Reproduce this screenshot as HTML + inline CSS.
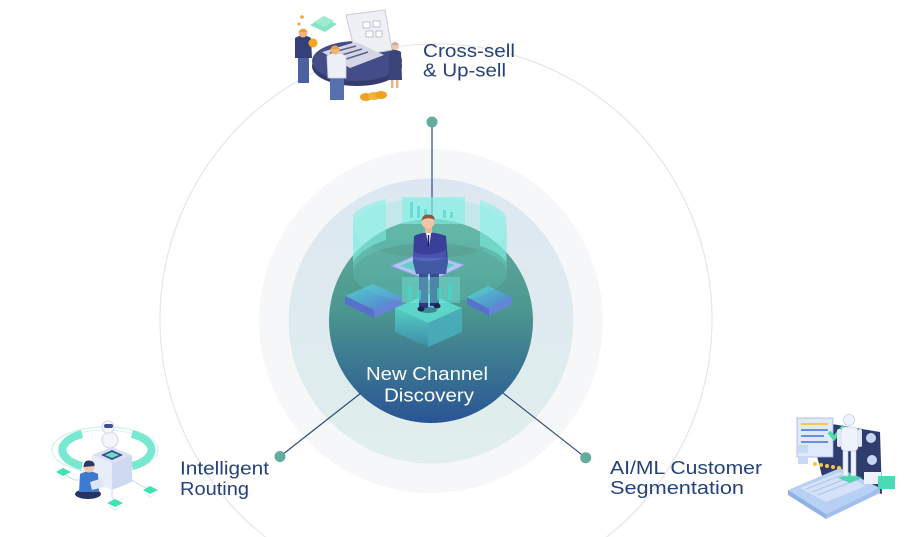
<!DOCTYPE html>
<html><head><meta charset="utf-8"><style>
html,body{margin:0;padding:0;background:#fff;width:908px;height:537px;overflow:hidden;}
svg{display:block}
text{font-family:"Liberation Sans",sans-serif;}
</style></head><body>
<svg width="908" height="537" viewBox="0 0 908 537" xmlns="http://www.w3.org/2000/svg">
<defs>
<linearGradient id="core" x1="0" y1="0" x2="0" y2="1">
 <stop offset="0" stop-color="#63ac9c"/>
 <stop offset="0.45" stop-color="#4b978f"/>
 <stop offset="1" stop-color="#2a5495"/>
</linearGradient>
<linearGradient id="mid" x1="0" y1="0" x2="0" y2="1">
 <stop offset="0" stop-color="#dde7f1"/>
 <stop offset="1" stop-color="#e0eeec"/>
</linearGradient>
<linearGradient id="blk" x1="0" y1="0" x2="1" y2="1">
 <stop offset="0" stop-color="#4fd9d0"/>
 <stop offset="1" stop-color="#5a72e0"/>
</linearGradient>
<linearGradient id="blk2" x1="0" y1="0" x2="0" y2="1">
 <stop offset="0" stop-color="#58dccf"/>
 <stop offset="1" stop-color="#3d8fb0"/>
</linearGradient>
</defs>
<rect width="908" height="537" fill="#fff"/>

<path d="M265.5,537 A276,276 0 1,1 606.5,537" fill="none" stroke="#e5e6e8" stroke-width="1.2"/>
<circle cx="431" cy="321" r="172" fill="#f6f7f8"/>
<circle cx="431" cy="321" r="142.5" fill="url(#mid)"/>
<circle cx="431" cy="321" r="102" fill="url(#core)"/>

<g stroke="#2f4c7e" stroke-width="1.2">
<line x1="432" y1="122" x2="432" y2="220"/>
<line x1="280" y1="456.5" x2="361" y2="393"/>
<line x1="503" y1="393" x2="585.7" y2="457.7"/>
</g>
<g fill="#62ad9c">
<circle cx="432" cy="122" r="5.5"/>
<circle cx="280" cy="456.5" r="5.5"/>
<circle cx="585.7" cy="457.7" r="5.5"/>
</g>

<path d="M353,228 A77,30 0 0,1 507,228 L507,273 A77,30 0 0,0 353,273 Z" fill="#6fe6d8" opacity="0.22"/>
<rect x="402" y="197" width="63" height="27" fill="#7ff0e2" opacity="0.6"/>
<g fill="#3fd7c8" opacity="0.6">
<rect x="410" y="202" width="3" height="16"/><rect x="417" y="206" width="3" height="12"/><rect x="424" y="209" width="3" height="9"/><rect x="443" y="210" width="3" height="8"/><rect x="450" y="212" width="3" height="6"/>
</g>
<path d="M353,215 Q360,205 386,199 L386,240 Q362,248 353,262 Z" fill="#7ff0e2" opacity="0.55"/>
<path d="M480,200 Q500,207 506,216 L506,262 Q500,252 480,246 Z" fill="#7ff0e2" opacity="0.55"/>

<polygon points="345,296 373,284 402,297 374,310" fill="url(#blk)" opacity="0.85"/>
<polygon points="345,296 374,310 374,318 345,304" fill="#5a68d8" opacity="0.8"/>
<polygon points="374,310 402,297 402,305 374,318" fill="#6c80e8" opacity="0.8"/>
<polygon points="467,297 488,286 512,297 489,309" fill="url(#blk)" opacity="0.85"/>
<polygon points="467,297 489,309 489,316 467,304" fill="#5a68d8" opacity="0.8"/>
<polygon points="489,309 512,297 512,304 489,316" fill="#6c80e8" opacity="0.8"/>
<polygon points="395,308 428,294 462,308 428,323" fill="#5fe0d2" opacity="0.85"/>
<polygon points="395,308 428,323 428,347 395,332" fill="url(#blk2)" opacity="0.8"/>
<polygon points="428,323 462,308 462,332 428,347" fill="#4ab2c0" opacity="0.8"/>

<polygon points="391,266 424,252 464,265 431,281" fill="#c2bff8" stroke="#9a95ec" stroke-width="1"/>
<polygon points="400,266 424,256 455,265 431,276" fill="#64c9c2"/>

<ellipse cx="428" cy="310" rx="9" ry="3" fill="#2a4f7a" opacity="0.6"/>
<rect x="419" y="270" width="9" height="38" fill="#2d3782"/>
<rect x="430" y="270" width="9" height="36" fill="#283076"/>
<ellipse cx="421" cy="309" rx="3.5" ry="2.5" fill="#1e244f"/>
<ellipse cx="437" cy="306" rx="3.5" ry="2.5" fill="#1e244f"/>
<path d="M414,236 Q428,229 446,236 L448,262 L446,274 L416,274 L413,262 Z" fill="#3a3f9a"/>
<path d="M414,252 Q428,258 446,250 L446,258 Q428,264 414,259 Z" fill="#4c52b4"/>
<polygon points="426,233 431,233 429,248" fill="#fff"/>
<line x1="428.5" y1="235" x2="428.5" y2="247" stroke="#1e244f" stroke-width="1.5"/>
<rect x="425" y="226" width="7" height="7" fill="#e9b898"/>
<circle cx="428" cy="222" r="6.5" fill="#f0c6a6"/>
<path d="M421.5,221 Q422,214 429,214.5 Q435,215 434.5,220 Q430,217 424,219 Z" fill="#8a5a3c"/>

<path d="M353,228 A77,30 0 0,0 507,228 L507,273 A77,30 0 0,1 353,273 Z" fill="#6fe6d8" opacity="0.16"/>
<rect x="402" y="277" width="58" height="26" fill="#7ff0e2" opacity="0.35"/>
<g fill="#3fe0cf" opacity="0.6">
<rect x="408" y="286" width="4" height="14"/><rect x="417" y="290" width="4" height="10"/><rect x="437" y="288" width="4" height="12"/><rect x="448" y="284" width="4" height="16"/>
</g>

<g fill="#fff" font-size="18">
<text x="366" y="380" textLength="122" lengthAdjust="spacingAndGlyphs">New Channel</text>
<text x="384" y="401.5" textLength="90" lengthAdjust="spacingAndGlyphs">Discovery</text>
</g>

<g fill="#25417a" font-size="18">
<text x="423" y="57" textLength="92" lengthAdjust="spacingAndGlyphs">Cross-sell</text>
<text x="423" y="76.5" textLength="83" lengthAdjust="spacingAndGlyphs">&amp; Up-sell</text>
<text x="180" y="474.5" textLength="89" lengthAdjust="spacingAndGlyphs">Intelligent</text>
<text x="180" y="495" textLength="69" lengthAdjust="spacingAndGlyphs">Routing</text>
<text x="610" y="474" textLength="152" lengthAdjust="spacingAndGlyphs">AI/ML Customer</text>
<text x="610" y="494" textLength="134" lengthAdjust="spacingAndGlyphs">Segmentation</text>
</g>

<g>
<polygon points="310,25 322,18 337,24 325,32" fill="#86e3c6"/>
<polygon points="314,22 324,16 334,21 324,27" fill="#9cecd3"/>
<circle cx="302" cy="17" r="1.8" fill="#f3a43a"/>
<circle cx="299" cy="24" r="1.5" fill="#f3a43a"/>
<ellipse cx="357" cy="66" rx="45" ry="20" fill="#343b6c"/>
<ellipse cx="357" cy="61" rx="45" ry="20" fill="#454d88"/>
<polygon points="346,15 385,10 392,50 356,56" fill="#eef0f5" stroke="#c8ccd8" stroke-width="1"/>
<g fill="#fff" stroke="#9aa0b8" stroke-width="0.6">
<rect x="363" y="22" width="7" height="6"/><rect x="373" y="21" width="7" height="6"/><rect x="366" y="31" width="7" height="6"/><rect x="376" y="31" width="6" height="6"/>
</g>
<polygon points="322,52 356,42 384,55 350,68" fill="#d4d7e3"/>
<g stroke="#5a6090" stroke-width="1.5">
<line x1="330" y1="53" x2="356" y2="46"/><line x1="335" y1="57" x2="362" y2="49"/><line x1="340" y1="61" x2="368" y2="52"/>
</g>
<rect x="298" y="56" width="11" height="27" fill="#4c61a3"/>
<path d="M295,38 Q303,33 311,38 L312,58 L295,58 Z" fill="#34407a"/>
<circle cx="303" cy="33" r="4.5" fill="#f2b27a"/>
<path d="M298.5,32 Q303,26 307.5,32 Z" fill="#f0a030"/>
<circle cx="313" cy="43" r="4.5" fill="#f5a623"/>
<rect x="330" y="76" width="14" height="24" fill="#5670b0"/>
<path d="M327,56 Q336,50 346,56 L346,78 L328,78 Z" fill="#eef0f8" stroke="#cdd2e6" stroke-width="0.8"/>
<circle cx="335" cy="50" r="4.5" fill="#f2b27a"/>
<path d="M330.5,49 Q335,43 339.5,49 Z" fill="#f0a030"/>
<rect x="391" y="78" width="2.5" height="10" fill="#f2b27a"/><rect x="396" y="78" width="2.5" height="10" fill="#f2b27a"/>
<path d="M389,52 Q395,48 401,52 L402,80 L388,80 Z" fill="#3a4478"/>
<circle cx="395" cy="46" r="4" fill="#f2c6a6"/>
<path d="M391,45 Q395,39 399,45 Z" fill="#b3b3bc"/>
<ellipse cx="366" cy="97" rx="6" ry="4" fill="#f0a022"/>
<ellipse cx="374" cy="96" rx="6" ry="4" fill="#f5b23a"/>
<ellipse cx="381" cy="95" rx="6" ry="4" fill="#f0a022"/>
</g>

<g>
<ellipse cx="105" cy="450" rx="53" ry="23" fill="none" stroke="#c6f1e8" stroke-width="1"/>
<ellipse cx="105" cy="450" rx="47" ry="20" fill="none" stroke="#d6f6ef" stroke-width="1"/>
<path d="M82,434 A36,18 0 0,0 82,466" fill="none" stroke="#62e4c9" stroke-width="8" opacity="0.85"/>
<path d="M132,434 A36,18 0 0,1 132,466" fill="none" stroke="#62e4c9" stroke-width="8" opacity="0.85"/>
<g stroke="#cfd8e8" stroke-width="1" fill="none">
<polyline points="63,474 75,480 90,480"/><polyline points="132,480 140,485 150,490"/><polyline points="112,490 112,497 115,503"/>
</g>
<polygon points="92,455 112,447 132,455 112,463" fill="#d9e2f5"/>
<polygon points="92,455 112,463 112,490 92,482" fill="#e8eef9"/>
<polygon points="112,463 132,455 132,482 112,490" fill="#cfd9ef"/>
<polygon points="101,455 112,450 123,455 112,460" fill="#3b4f8a"/>
<polygon points="105,455 112,452 119,455 112,458" fill="#5fe3c8"/>
<ellipse cx="110" cy="440" rx="8" ry="8" fill="#f3f5fb" stroke="#c8d0e6" stroke-width="0.8"/>
<circle cx="108" cy="427" r="6" fill="#f5f7fc" stroke="#c8d0e6" stroke-width="0.8"/>
<rect x="104" y="424" width="9" height="4" rx="2" fill="#3c4f9a"/>
<polygon points="56,472 63,468 71,472 63,476" fill="#42e0b5"/>
<polygon points="143,490 150,486 158,490 150,494" fill="#42e0b5"/>
<polygon points="107,503 115,499 123,503 115,507" fill="#42e0b5"/>
<g fill="#d5f7ee">
<polygon points="56,474 63,478 71,474 63,480"/><polygon points="143,492 150,496 158,492 150,498"/><polygon points="107,505 115,509 123,505 115,511"/>
</g>
<ellipse cx="88" cy="494" rx="13" ry="5" fill="#273265"/>
<path d="M80,474 Q89,469 98,474 L99,492 L79,492 Z" fill="#3e7bd0"/>
<polygon points="90,482 103,478 104,487 92,490" fill="#dfe5f2"/>
<circle cx="89" cy="467" r="5.5" fill="#f2c6a6"/>
<path d="M83.5,467 Q84,460 89,460.5 Q95,461 94.5,466 Z" fill="#2b3868"/>
</g>

<g>
<polygon points="808,420 880,432 882,494 822,476" fill="#2e3d6e"/>
<polygon points="788,490 840,468 880,488 826,514" fill="#b7d0f3"/>
<polygon points="788,490 826,514 826,519 788,495" fill="#8fb1e6"/>
<polygon points="826,514 880,488 880,493 826,519" fill="#a2c0ec"/>
<polygon points="800,488 840,472 866,486 826,502" fill="#d3e2f8"/>
<g stroke="#b0c6ea" stroke-width="1">
<line x1="806" y1="489" x2="842" y2="475"/><line x1="812" y1="492" x2="848" y2="478"/><line x1="818" y1="495" x2="854" y2="481"/>
</g>
<rect x="797" y="418" width="36" height="39" fill="#dfe9fa" stroke="#9fb6e4" stroke-width="0.8"/>
<g stroke-width="2">
<line x1="801" y1="424" x2="828" y2="424" stroke="#f5c84a"/>
<line x1="801" y1="430" x2="828" y2="430" stroke="#6a8fe0"/>
<line x1="801" y1="436" x2="824" y2="436" stroke="#6a8fe0"/>
<line x1="801" y1="442" x2="828" y2="442" stroke="#6a8fe0"/>
</g>
<rect x="798" y="445" width="10" height="8" fill="#c9d8f4"/>
<rect x="798" y="456" width="10" height="8" fill="#c9d8f4"/>
<polyline points="829,432 834,438 844,426" fill="none" stroke="#4ed9a8" stroke-width="4"/>
<g fill="#f5c84a">
<circle cx="815" cy="464" r="2"/><circle cx="821" cy="465" r="2"/><circle cx="827" cy="466" r="2"/><circle cx="833" cy="467" r="2"/><circle cx="839" cy="468" r="2"/>
</g>
<polygon points="838,478 850,473 862,478 850,483" fill="#52d6b0"/>
<rect x="843" y="450" width="5" height="26" fill="#eef2fa" stroke="#b8c3dc" stroke-width="0.6"/>
<rect x="851" y="450" width="5" height="26" fill="#eef2fa" stroke="#b8c3dc" stroke-width="0.6"/>
<rect x="841" y="427" width="17" height="24" rx="4" fill="#eef2fa" stroke="#b8c3dc" stroke-width="0.6"/>
<rect x="837" y="429" width="4" height="18" rx="2" fill="#e3e9f6"/>
<rect x="858" y="429" width="4" height="18" rx="2" fill="#e3e9f6"/>
<circle cx="849" cy="420" r="5.5" fill="#eef2fa" stroke="#b8c3dc" stroke-width="0.6"/>
<circle cx="871" cy="438" r="5" fill="#c9d6f2"/>
<circle cx="872" cy="460" r="5" fill="#c9d6f2"/>
<rect x="864" y="472" width="17" height="12" fill="#eef2fa"/>
<rect x="878" y="476" width="17" height="13" fill="#4dd8b6"/>
</g>
</svg>
</body></html>
